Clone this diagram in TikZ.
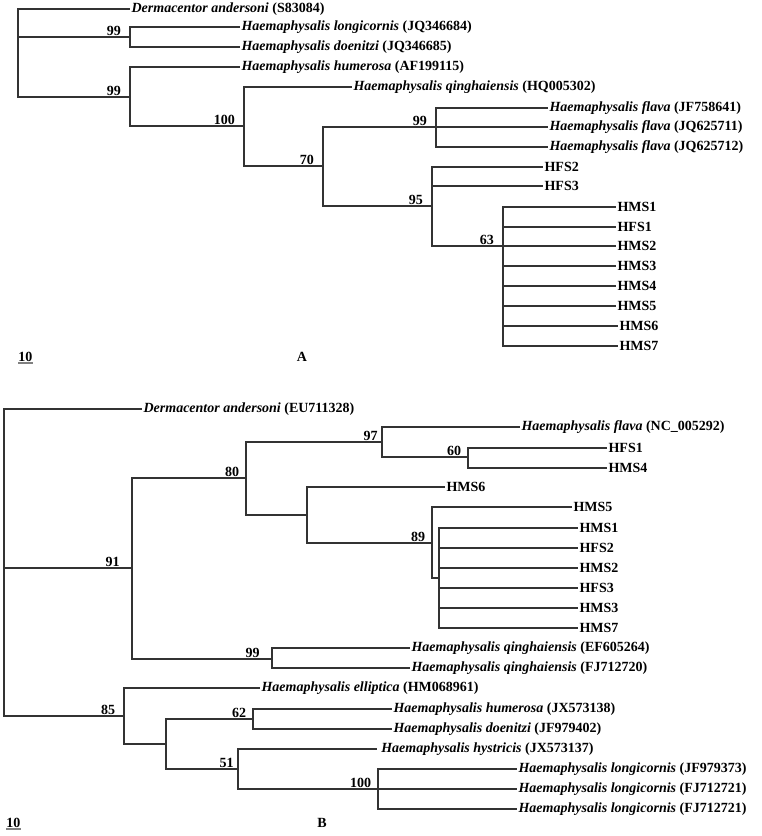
\documentclass[tikz,border=0pt]{standalone}
\usepackage{fontspec}
\setmainfont{Liberation Serif}
\newcommand{\spn}[1]{\textit{#1}}
\begin{document}
\begin{tikzpicture}[x=0.75pt,y=-0.75pt,
  br/.style={line width=1pt, draw=black!80},
  leaf/.style={anchor=west, inner sep=1pt, font=\fontsize{10.5}{12}\selectfont\bfseries},
  bs/.style={anchor=south east, inner sep=0pt, yshift=0.6pt, xshift=-5pt, font=\fontsize{10.5}{12}\selectfont\bfseries},
  bsa/.style={bs, xshift=-1.7pt},
  ttl/.style={inner sep=0pt, font=\fontsize{10.5}{12}\selectfont\bfseries}]
\useasboundingbox[fill=white] (0,0) rectangle (762,836);

% ---------------- Tree A ----------------
\coordinate (rootA) at (18,37);
\coordinate (n99a) at (130,37);
\coordinate (n99b) at (130,97);
\coordinate (n100a) at (244,126);
\coordinate (n70) at (323,166);
\coordinate (n99c) at (436,127);
\coordinate (n95) at (432,206);
\coordinate (n63) at (503,246);

\node[leaf] (dermA) at (130,9) {\spn{Dermacentor andersoni} (S83084)};
\node[leaf] (longA) at (240,27) {\spn{Haemaphysalis longicornis} (JQ346684)};
\node[leaf] (doenA) at (240,47) {\spn{Haemaphysalis doenitzi} (JQ346685)};
\node[leaf] (humA) at (240,67) {\spn{Haemaphysalis humerosa} (AF199115)};
\node[leaf] (qingA) at (352,87) {\spn{Haemaphysalis qinghaiensis} (HQ005302)};
\node[leaf] (flA1) at (548,108) {\spn{Haemaphysalis flava} (JF758641)};
\node[leaf] (flA2) at (548,127) {\spn{Haemaphysalis flava} (JQ625711)};
\node[leaf] (flA3) at (548,147) {\spn{Haemaphysalis flava} (JQ625712)};
\node[leaf] (hfs2A) at (543,167) {HFS2};
\node[leaf] (hfs3A) at (543,186) {HFS3};
\node[leaf] (hms1A) at (616,207) {HMS1};
\node[leaf] (hfs1A) at (616,227) {HFS1};
\node[leaf] (hms2A) at (616,246) {HMS2};
\node[leaf] (hms3A) at (616,266) {HMS3};
\node[leaf] (hms4A) at (616,286) {HMS4};
\node[leaf] (hms5A) at (616,306) {HMS5};
\node[leaf] (hms6A) at (618,326) {HMS6};
\node[leaf] (hms7A) at (618,346) {HMS7};

\draw[br] (rootA) |- (dermA.west);
\draw[br] (rootA) |- (n99a);
\draw[br] (rootA) |- (n99b);
\draw[br] (n99a) |- (longA.west);
\draw[br] (n99a) |- (doenA.west);
\draw[br] (n99b) |- (humA.west);
\draw[br] (n99b) |- (n100a);
\draw[br] (n100a) |- (qingA.west);
\draw[br] (n100a) |- (n70);
\draw[br] (n70) |- (n99c);
\draw[br] (n70) |- (n95);
\draw[br] (n99c) |- (flA1.west);
\draw[br] (n99c) |- (flA2.west);
\draw[br] (n99c) |- (flA3.west);
\draw[br] (n95) |- (hfs2A.west);
\draw[br] (n95) |- (hfs3A.west);
\draw[br] (n95) |- (n63);
\foreach \t in {hms1A,hfs1A,hms2A,hms3A,hms4A,hms5A,hms6A,hms7A}
  \draw[br] (n63) |- (\t.west);

\node[bsa] (b1) at (n99a) {99};
\node[bsa] (b2) at (n99b) {99};
\node[bsa] (b3) at (n100a) {100};
\node[bsa] (b4) at (n70) {70};
\node[bsa] (b5) at (n99c) {99};
\node[bsa] (b6) at (n95) {95};
\node[bsa] (b7) at (n63) {63};

\node[ttl, anchor=base west] (scaleA) at (18,361) {10};
\draw[gray, line width=1pt] ([yshift=-1.5pt]scaleA.base west) -- ([yshift=-1.5pt]scaleA.base east);
\node[ttl] (labA) at (302,357) {A};

% ---------------- Tree B ----------------
\coordinate (rootB) at (4,568);
\coordinate (n91) at (132,568);
\coordinate (n80) at (246,478);
\coordinate (n97) at (382,442);
\coordinate (n60) at (468,457);
\coordinate (nX) at (307,515);
\coordinate (n89) at (432,543);
\coordinate (nY) at (439,578);
\coordinate (n99d) at (272,659);
\coordinate (n85) at (124,716);
\coordinate (nZ) at (166,744);
\coordinate (n62) at (253,719);
\coordinate (n51) at (238,769);
\coordinate (n100b) at (378,789);

\node[leaf] (dermB) at (142,409) {\spn{Dermacentor andersoni} (EU711328)};
\node[leaf] (flB) at (520,427) {\spn{Haemaphysalis flava} (NC\_005292)};
\node[leaf] (hfs1B) at (607,448) {HFS1};
\node[leaf] (hms4B) at (607,468) {HMS4};
\node[leaf] (hms6B) at (445,487) {HMS6};
\node[leaf] (hms5B) at (572,507) {HMS5};
\node[leaf] (hms1B) at (578,528) {HMS1};
\node[leaf] (hfs2B) at (578,548) {HFS2};
\node[leaf] (hms2B) at (578,568) {HMS2};
\node[leaf] (hfs3B) at (578,588) {HFS3};
\node[leaf] (hms3B) at (578,608) {HMS3};
\node[leaf] (hms7B) at (578,628) {HMS7};
\node[leaf] (qgB1) at (410,648) {\spn{Haemaphysalis qinghaiensis} (EF605264)};
\node[leaf] (qgB2) at (410,668) {\spn{Haemaphysalis qinghaiensis} (FJ712720)};
\node[leaf] (elB) at (260,688) {\spn{Haemaphysalis elliptica} (HM068961)};
\node[leaf] (huB) at (392,709) {\spn{Haemaphysalis humerosa} (JX573138)};
\node[leaf] (doB) at (392,729) {\spn{Haemaphysalis doenitzi} (JF979402)};
\node[leaf, inner xsep=3pt] (hyB) at (377,749) {\spn{Haemaphysalis hystricis} (JX573137)};
\node[leaf] (loB1) at (517,769) {\spn{Haemaphysalis longicornis} (JF979373)};
\node[leaf] (loB2) at (517,789) {\spn{Haemaphysalis longicornis} (FJ712721)};
\node[leaf] (loB3) at (517,809) {\spn{Haemaphysalis longicornis} (FJ712721)};

\draw[br] (rootB) |- (dermB.west);
\draw[br] (rootB) |- (n91);
\draw[br] (rootB) |- (n85);
\draw[br] (n91) |- (n80);
\draw[br] (n91) |- (n99d);
\draw[br] (n80) |- (n97);
\draw[br] (n80) |- (nX);
\draw[br] (n97) |- (flB.west);
\draw[br] (n97) |- (n60);
\draw[br] (n60) |- (hfs1B.west);
\draw[br] (n60) |- (hms4B.west);
\draw[br] (nX) |- (hms6B.west);
\draw[br] (nX) |- (n89);
\draw[br] (n89) |- (hms5B.west);
\draw[br] (n89) |- (nY);
\foreach \t in {hms1B,hfs2B,hms2B,hfs3B,hms3B,hms7B}
  \draw[br] (nY) |- (\t.west);
\draw[br] (n99d) |- (qgB1.west);
\draw[br] (n99d) |- (qgB2.west);
\draw[br] (n85) |- (elB.west);
\draw[br] (n85) |- (nZ);
\draw[br] (nZ) |- (n62);
\draw[br] (nZ) |- (n51);
\draw[br] (n62) |- (huB.west);
\draw[br] (n62) |- (doB.west);
\draw[br] (n51) |- (hyB.west);
\draw[br] (n51) |- (n100b);
\draw[br] (n100b) |- (loB1.west);
\draw[br] (n100b) |- (loB2.west);
\draw[br] (n100b) |- (loB3.west);

\node[bs, xshift=2pt] (c1) at (n97) {97};
\node[bs] (c2) at (n60) {60};
\node[bs] (c3) at (n80) {80};
\node[bs] (c4) at (n89) {89};
\node[bs, xshift=-4pt] (c5) at (n91) {91};
\node[bs, xshift=-4pt] (c6) at (n99d) {99};
\node[bs, xshift=-1.5pt] (c7) at (n85) {85};
\node[bs] (c8) at (n62) {62};
\node[bs, xshift=2pt] (c9) at (n51) {51};
\node[bs] (c10) at (n100b) {100};

\node[ttl, anchor=base west] (scaleB) at (6,827) {10};
\draw[gray, line width=1pt] ([yshift=-1.5pt]scaleB.base west) -- ([yshift=-1.5pt]scaleB.base east);
\node[ttl] (labB) at (322,823) {B};
\end{tikzpicture}
\end{document}
